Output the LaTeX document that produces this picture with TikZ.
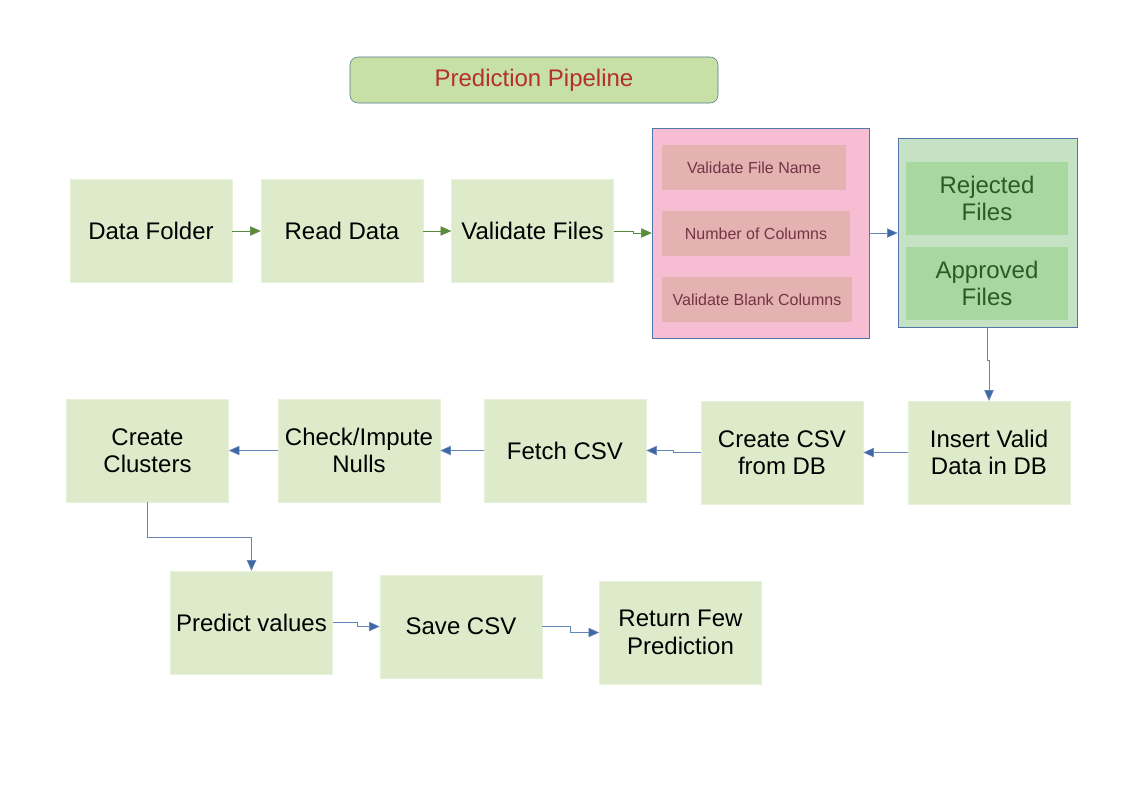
\documentclass[tikz,border=0pt]{standalone}
\usepackage{fontspec}
\setmainfont{Liberation Sans}
\usetikzlibrary{arrows.meta}

\definecolor{stagefill}{HTML}{DEEBCB}
\definecolor{stageline}{HTML}{E6F0DA}
\definecolor{titlefill}{HTML}{C6E0A6}
\definecolor{titleline}{HTML}{4F7A8C}
\definecolor{titletext}{HTML}{B5302A}
\definecolor{checkfill}{HTML}{F7BDD2}
\definecolor{checkbox}{HTML}{E5B2B2}
\definecolor{checktext}{HTML}{743445}
\definecolor{filesfill}{HTML}{C5E3C4}
\definecolor{filesbox}{HTML}{A9D7A0}
\definecolor{filestext}{HTML}{2C5A28}
\definecolor{frameline}{HTML}{5375AA}
\definecolor{flowgreen}{HTML}{5A8A3C}
\definecolor{flowblue}{HTML}{3E67A6}

\begin{document}
\begin{tikzpicture}
  [x=0.75pt, y=-0.75pt,
   stage/.style={fill=stagefill, draw=stageline, align=center,
     minimum width=121.5pt, minimum height=77pt,
     font=\fontsize{18}{20.5}\selectfont},
   checkstep/.style={fill=checkbox, text=checktext, minimum height=34pt,
     font=\fontsize{12}{14}\selectfont},
   filestep/.style={fill=filesbox, text=filestext, align=center,
     minimum width=121.5pt, minimum height=55pt,
     font=\fontsize{18}{20.5}\selectfont},
   gflow/.style={draw=flowgreen, line width=0.5pt,
     -{Triangle[length=8pt,width=7pt]}},
   bflow/.style={draw=flowblue!80, line width=0.5pt,
     -{Triangle[length=8pt,width=7pt,fill=flowblue]}}]
  \useasboundingbox (0,0) rectangle (1123,794);

  % title
  \node (title) at (534,80) [fill=titlefill, draw=titleline, rounded corners=6pt,
    minimum width=276pt, minimum height=34.5pt, text=titletext,
    font=\fontsize{18}{20.5}\selectfont] {Prediction Pipeline};

  % first row
  \node (folder) at (151,231) [stage] {Data Folder};
  \node (read) at (342,231) [stage] {Read Data};
  \node (vfiles) at (532.5,231) [stage] {Validate Files};

  \node (checks) at (760.5,233) [fill=checkfill, draw=frameline,
    minimum width=162.75pt, minimum height=157.5pt] {};
  \node (fname) at (754,167.5) [checkstep, minimum width=138pt] {Validate File Name};
  \node (ncols) at (756,233.5) [checkstep, minimum width=141pt] {Number of Columns};
  \node (blank) at (757,299.5) [checkstep, minimum width=142.5pt] {Validate Blank Columns};

  \node (files) at (987.5,232.5) [fill=filesfill, draw=frameline,
    minimum width=134.25pt, minimum height=141.75pt] {};
  \node (rejected) at (987,198.5) [filestep] {Rejected\\Files};
  \node (approved) at (987,283.5) [filestep] {Approved\\Files};

  % second row
  \node (insert) at (989,452.5) [stage] {Insert Valid\\Data in DB};
  \node (fromdb) at (782,452.5) [stage] {Create CSV\\from DB};
  \node (fetch) at (565,450.5) [stage] {Fetch CSV};
  \node (nulls) at (359,450.5) [stage] {Check/Impute\\Nulls};
  \node (clusters) at (147.5,450.5) [stage] {Create\\Clusters};

  % third row
  \node (predict) at (251.5,622.5) [stage] {Predict values};
  \node (save) at (461,626.5) [stage] {Save CSV};
  \node (result) at (680.5,632.5) [stage] {Return Few\\Prediction};

  % connectors
  \draw[gflow] (folder) -- (read);
  \draw[gflow] (read) -- (vfiles);
  \draw[gflow] (vfiles.east) -- ++(20,0) |- (checks.west);
  \draw[bflow] (checks.east) -- (files.west |- checks.east);
  \draw[bflow] (files.south) -- ++(0,33) -| (insert.north);
  \draw[bflow] (insert) -- (fromdb);
  \draw[bflow] (fromdb.west) -- ++(-27,0) |- (fetch.east);
  \draw[bflow] (fetch) -- (nulls);
  \draw[bflow] (nulls) -- (clusters);
  \draw[bflow] (clusters.south) -- ++(0,35) -| (predict.north);
  \draw[bflow] (predict.east) -- ++(25,0) |- (save.west);
  \draw[bflow] (save.east) -- ++(28,0) |- (result.west);
\end{tikzpicture}
\end{document}
